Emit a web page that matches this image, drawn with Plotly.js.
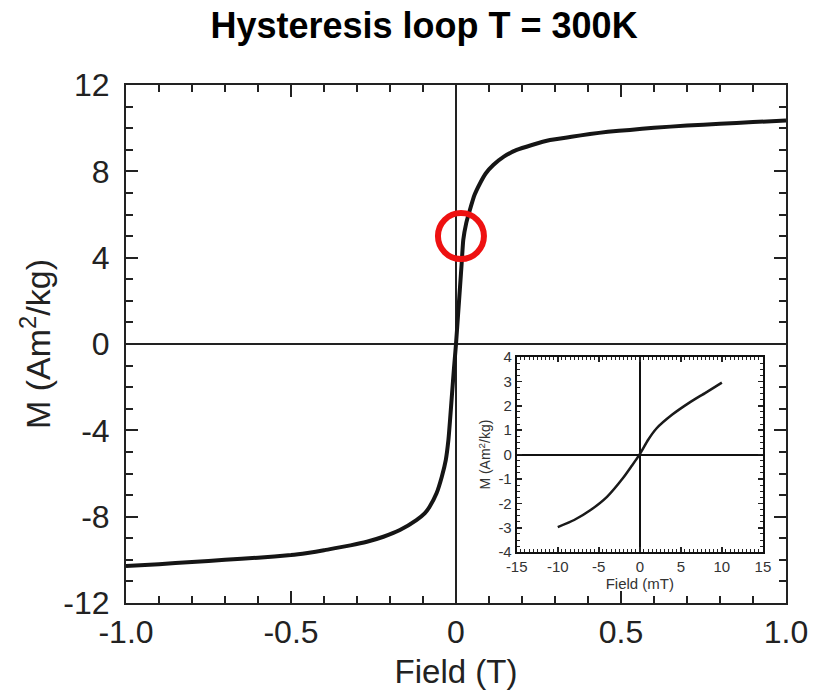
<!DOCTYPE html>
<html>
<head>
<meta charset="utf-8">
<script src="https://cdn.plot.ly/plotly-3.0.1.min.js"></script>
<style>html,body{margin:0;padding:0;background:#fff;}#chart{width:825px;height:696px;}</style>
</head>
<body>
<div id="chart"></div>
<script>
// Main loop (field in T, magnetisation in Am^2/kg)
const fieldT = [-1.0,-0.9,-0.8,-0.7,-0.6,-0.5,-0.45,-0.4,-0.37,-0.32,-0.27,-0.22,-0.17,-0.12,-0.095,-0.08,-0.059,-0.043,-0.031,-0.023,-0.018,-0.012,-0.006,
  0,0.006,0.012,0.017,0.022,0.031,0.042,0.056,0.073,0.09,0.113,0.145,0.184,0.23,0.285,0.35,0.406,0.46,0.527,0.6,0.7,0.8,0.9,1.0];
const magM = [-10.28,-10.2,-10.1,-10.0,-9.9,-9.78,-9.68,-9.56,-9.47,-9.33,-9.16,-8.93,-8.62,-8.16,-7.85,-7.54,-6.92,-6.15,-5.38,-4.45,-3.52,-2.3,-1.1,
  0,1.3,2.6,3.7,4.82,5.6,6.21,6.9,7.45,7.9,8.29,8.68,8.99,9.22,9.45,9.6,9.73,9.83,9.92,10.02,10.12,10.2,10.28,10.35];
// Inset (field in mT)
const fieldmT = [-10,-8,-6,-4,-2,-1,0,1,2,4,6,8,10];
const magInset = [-2.97,-2.68,-2.27,-1.73,-0.94,-0.47,0.02,0.6,1.06,1.65,2.12,2.53,2.95];
// Highlight circle position
const markX = [0.015];
const markY = [5.0];
// Tick labels
const xTickVals = [-1,-0.5,0,0.5,1];
const xTickText = ['-1.0','-0.5','0','0.5','1.0'];
const yTickVals = [-12,-8,-4,0,4,8,12];
const yTickText = ['-12','-8','-4','0','4','8','12'];
const x2TickVals = [-15,-10,-5,0,5,10,15];
const x2TickText = ['-15','-10','-5','0','5','10','15'];
const y2TickVals = [-4,-3,-2,-1,0,1,2,3,4];
const y2TickText = ['-4','-3','-2','-1','0','1','2','3','4'];

const FONT = 'Liberation Sans, Arial, Helvetica, sans-serif';

// map Plotly's default labels (unicode minus, .1f zero) to the reference text
function alias(vals, texts, fmt) {
  const out = {};
  vals.forEach((v, i) => {
    let s = fmt(Math.abs(v));
    if (v < 0) s = '\u2212' + s;
    out[s] = texts[i];
  });
  return out;
}

const traces = [
  {x: fieldT, y: magM, type: 'scatter', mode: 'lines', line: {color: '#151515', width: 4, shape: 'spline', smoothing: 0.4}, xaxis: 'x', yaxis: 'y', hoverinfo: 'skip'},
  {x: markX, y: markY, type: 'scatter', mode: 'markers', marker: {symbol: 'circle-open', size: 46, color: '#ee1111', line: {color: '#ee1111', width: 6}}, xaxis: 'x', yaxis: 'y', hoverinfo: 'skip'},
  {x: fieldmT, y: magInset, type: 'scatter', mode: 'lines', line: {color: '#1a1a1a', width: 2.5, shape: 'spline', smoothing: 0.6}, xaxis: 'x2', yaxis: 'y2', hoverinfo: 'skip'}
];

const layout = {
  width: 825, height: 696,
  margin: {l: 126, r: 39, t: 85, b: 93},
  paper_bgcolor: '#fff', plot_bgcolor: '#fff',
  showlegend: false,
  font: {family: FONT, color: '#222'},
  title: {text: '<b>Hysteresis loop T = 300K</b>', font: {family: FONT, size: 36, color: '#000'}, x: 0.514, xanchor: 'center', y: 0.964, yanchor: 'middle', xref: 'container', yref: 'container'},
  xaxis: {
    range: [-1, 1], tickmode: 'linear', tick0: -1, dtick: 0.5, tickformat: '.1f',
    labelalias: alias(xTickVals, xTickText, v => v.toFixed(1)),
    ticks: 'inside', ticklen: 12, tickwidth: 2, tickcolor: '#222',
    minor: {dtick: 0.1, tick0: -1, ticks: 'inside', ticklen: 7, tickwidth: 2, tickcolor: '#222', showgrid: false},
    showline: true, linecolor: '#222', linewidth: 2, mirror: 'ticks',
    showgrid: false, zeroline: true, zerolinecolor: '#222', zerolinewidth: 1.5,
    tickfont: {size: 32, family: FONT, color: '#222'},
    title: {text: 'Field (T)', font: {size: 33, family: FONT, color: '#222'}, standoff: 10},
    automargin: false
  },
  yaxis: {
    range: [-12, 12], tickmode: 'linear', tick0: 0, dtick: 4,
    labelalias: alias(yTickVals, yTickText, v => String(v)),
    ticks: 'inside', ticklen: 12, tickwidth: 2, tickcolor: '#222',
    minor: {dtick: 1, tick0: 0, ticks: 'inside', ticklen: 7, tickwidth: 2, tickcolor: '#222', showgrid: false},
    showline: true, linecolor: '#222', linewidth: 2, mirror: 'ticks',
    showgrid: false, zeroline: true, zerolinecolor: '#222', zerolinewidth: 1.5,
    tickfont: {size: 32, family: FONT, color: '#222'},
    ticklabelstandoff: 8,
    title: {text: 'M (Am<sup>2</sup>/kg)', font: {size: 34, family: FONT, color: '#222'}, standoff: 2},
    automargin: false
  },
  xaxis2: {
    domain: [0.592, 0.965], anchor: 'y2', range: [-15, 15],
    tickmode: 'linear', tick0: 0, dtick: 5,
    labelalias: alias(x2TickVals, x2TickText, v => String(v)),
    ticks: 'inside', ticklen: 5, tickwidth: 1.5, tickcolor: '#222',
    minor: {dtick: 0.5, tick0: 0, ticks: 'inside', ticklen: 3, tickwidth: 1, tickcolor: '#222', showgrid: false},
    showline: true, linecolor: '#111', linewidth: 2, mirror: 'ticks',
    showgrid: false, zeroline: true, zerolinecolor: '#111', zerolinewidth: 2,
    tickfont: {size: 15, family: FONT, color: '#333'},
    title: {text: 'Field (mT)', font: {size: 15, family: FONT, color: '#333'}, standoff: 2},
    automargin: false
  },
  yaxis2: {
    domain: [0.098, 0.475], anchor: 'x2', range: [-4, 4],
    tickmode: 'linear', tick0: 0, dtick: 1,
    labelalias: alias(y2TickVals, y2TickText, v => String(v)),
    ticks: 'inside', ticklen: 5, tickwidth: 1.5, tickcolor: '#222',
    minor: {dtick: 0.25, tick0: 0, ticks: 'inside', ticklen: 3, tickwidth: 1, tickcolor: '#222', showgrid: false},
    showline: true, linecolor: '#111', linewidth: 2, mirror: 'ticks',
    showgrid: false, zeroline: true, zerolinecolor: '#111', zerolinewidth: 2,
    tickfont: {size: 15, family: FONT, color: '#333'},
    title: {text: 'M (Am<sup>2</sup>/kg)', font: {size: 14, family: FONT, color: '#333'}, standoff: 4},
    automargin: false
  }
};

Plotly.newPlot('chart', traces, layout, {staticPlot: true, displayModeBar: false});
</script>
</body>
</html>
